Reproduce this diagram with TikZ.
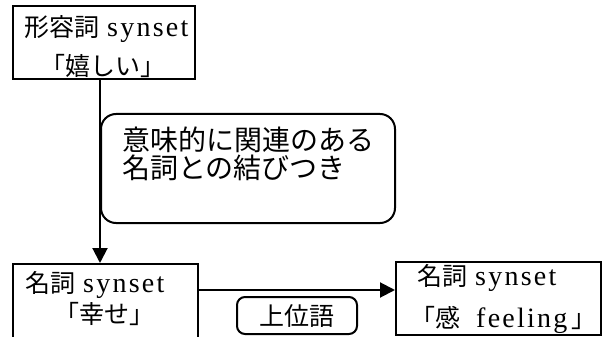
\documentclass[tikz,border=0pt]{standalone}
\usepackage{fontspec}
\setmainfont{Liberation Serif}
\newfontfamily\jp{Noto Sans CJK JP}
\newfontfamily\latf{Liberation Serif}[LetterSpace=8]
\newcommand{\lat}{\fontsize{28}{30}\selectfont\latf}
\usetikzlibrary{arrows.meta}
\begin{document}
\begin{tikzpicture}[x=1pt,y=-1pt,
  box/.style={draw, line width=2pt, inner sep=0pt},
  rbox/.style={draw, line width=2pt, rounded corners=15pt, inner sep=0pt},
  sbox/.style={draw, line width=2pt, rounded corners=8pt, inner sep=0pt},
  lbl/.style={inner sep=0pt, font=\fontsize{25}{30}\selectfont},
  big/.style={inner sep=0pt, font=\fontsize{28}{32}\selectfont},
  arr/.style={line width=2pt, -{Triangle[width=15pt,length=15pt]}}]
\useasboundingbox (0,0) rectangle (603,337);
\clip (0,0) rectangle (603,337);
% boxes
\node[box, minimum width=182pt, minimum height=73pt] (top) at (104,42.5) {};
\node[rbox, minimum width=294pt, minimum height=109pt] (rel) at (248,168.5) {};
\node[box, minimum width=185pt, minimum height=81pt] (nl) at (105.5,304.5) {};
\node[box, minimum width=205pt, minimum height=73pt] (nr) at (498.5,298.5) {};
\node[sbox, minimum width=120pt, minimum height=37pt] (hyp) at (297,315.5) {};
% texts
\node[lbl, anchor=base west] (t1a) at (24,36.5) {{\jp 形容詞}\hspace{8pt}{\lat synset}};
\node[lbl, anchor=base] (t1b) at (103,75.5) {\jp 「嬉しい」};
\node[big, anchor=base west] (r1) at (122,150.6) {\jp 意味的に関連のある};
\node[big, anchor=base west] (r2) at (122,178.6) {\jp 名詞との結びつき};
\node[lbl, anchor=base west] (t2a) at (25,292.5) {{\jp 名詞}\hspace{8pt}{\lat synset}};
\node[lbl, anchor=base] (t2b) at (104,323.5) {\jp 「幸せ」};
\node[lbl, anchor=base west] (t3a) at (417,285.5) {{\jp 名詞}\hspace{8pt}{\lat synset}};
\node[lbl, anchor=base west] (t3b) at (410,327.5) {{\jp 「感}\hspace{16pt}{\lat feeling}\hspace{4pt}{\jp 」}};
\node[lbl, anchor=base] (th) at (297,325) {\jp 上位語};
% connectors
\coordinate (vx) at (100,0);
\coordinate (hy) at (0,290);
\draw[arr] (top.south -| vx) -- (nl.north -| vx);
\draw[arr] (nl.east |- hy) -- (nr.west |- hy);
\end{tikzpicture}
\end{document}
